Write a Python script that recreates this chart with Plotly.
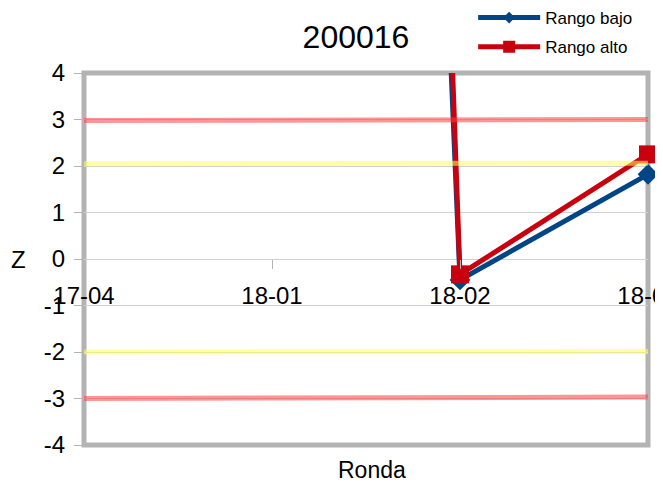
import plotly.graph_objects as go

categories = ["17-04", "18-01", "18-02", "18-03"]
rango_bajo = [None, 95.0, -0.45, 1.82]
rango_alto = [None, 111.0, -0.33, 2.25]
red_upper = [2.98, 2.98, 2.99, 3.0]
yellow_upper = [2.05, 2.05, 2.06, 2.06]
yellow_lower = [-2.0, -2.0, -1.99, -1.99]
red_lower = [-3.0, -2.99, -2.99, -2.97]
y_ticks = [-4, -3, -2, -1, 0, 1, 2, 3, 4]
y_tick_text = ["-4", "-3", "-2", "-1", "0", "1", "2", "3", "4"]

FONT = "Liberation Sans"
BLUE = "#004586"
RED = "#c9000e"

W, H = 655, 477
L, T, R, B = 75.5, 65, 15, 40
PW = W - L - R
PH = H - T - B

fig = go.Figure()
fig.add_trace(go.Scatter(
    x=categories, y=rango_bajo, name="Rango bajo", mode="lines+markers",
    line=dict(color=BLUE, width=5),
    marker=dict(symbol="diamond", size=16, color=BLUE),
    cliponaxis=False, showlegend=False))
fig.add_trace(go.Scatter(
    x=categories, y=rango_alto, name="Rango alto", mode="lines+markers",
    line=dict(color=RED, width=5),
    marker=dict(symbol="square", size=18, color=RED),
    cliponaxis=False, showlegend=False))
for vals, col in [(red_upper, "rgba(255,60,60,0.55)"), (yellow_upper, "rgba(255,255,90,0.55)"),
                  (yellow_lower, "rgba(255,255,90,0.55)"), (red_lower, "rgba(255,60,60,0.55)")]:
    fig.add_trace(go.Scatter(x=categories, y=vals, mode="lines", showlegend=False,
                             hoverinfo="skip", line=dict(color=col, width=5)))
# legend entries
fig.add_trace(go.Scatter(x=[None], y=[None], name="Rango bajo", mode="lines+markers",
                         legendgroup="a",
                         line=dict(color=BLUE, width=5),
                         marker=dict(symbol="diamond", size=9, color=BLUE)))
fig.add_trace(go.Scatter(x=[None], y=[None], name="Rango alto", mode="lines+markers",
                         legendgroup="b",
                         line=dict(color=RED, width=5),
                         marker=dict(symbol="square", size=12, color=RED)))

fig.update_layout(
    width=W, height=H,
    margin=dict(l=L, r=R, t=T, b=B, autoexpand=False),
    paper_bgcolor="white", plot_bgcolor="white",
    font=dict(family=FONT, size=24, color="black"),
    title=dict(text="200016", x=348/W, y=1-29/H, xanchor="center", yanchor="middle",
               xref="container", yref="container", font=dict(size=32, family=FONT)),
    legend=dict(x=(465-L)/PW, y=1+(T+8)/PH, xref="paper", yref="paper",
                xanchor="left", yanchor="top", font=dict(size=17, family=FONT),
                itemwidth=62, tracegroupgap=4, bgcolor="rgba(0,0,0,0)"),
    xaxis=dict(type="category", range=[0, 3], anchor="free", position=0.5,
               showgrid=False, showline=False, zeroline=False, automargin=False,
               ticks="outside", ticklen=9, tickcolor="#b3b3b3", tickwidth=1,
               tickfont=dict(size=24), ticklabelstandoff=6),
    yaxis=dict(range=[-4, 4], tickvals=y_ticks, ticktext=y_tick_text, ticks="outside", ticklen=9,
               tickcolor="#b3b3b3", showgrid=True, gridcolor="#d0d0d0", gridwidth=1,
               zeroline=False, showline=False, tickfont=dict(size=24), automargin=False,
               ticklabelstandoff=4),
    shapes=[dict(type="rect", xref="paper", yref="paper", x0=0, x1=1, y0=0, y1=1,
                 line=dict(color="#b3b3b3", width=5), layer="below")],
    annotations=[
        dict(text="Z", xref="paper", yref="paper", x=(10-L)/PW, y=0.5,
             xanchor="center", yanchor="middle", showarrow=False, font=dict(size=24)),
        dict(text="Ronda", xref="paper", yref="paper", x=(364-L)/PW, y=-25/PH,
             xanchor="center", yanchor="middle", showarrow=False, font=dict(size=23)),
    ],
)

fig.write_html("out.html")
